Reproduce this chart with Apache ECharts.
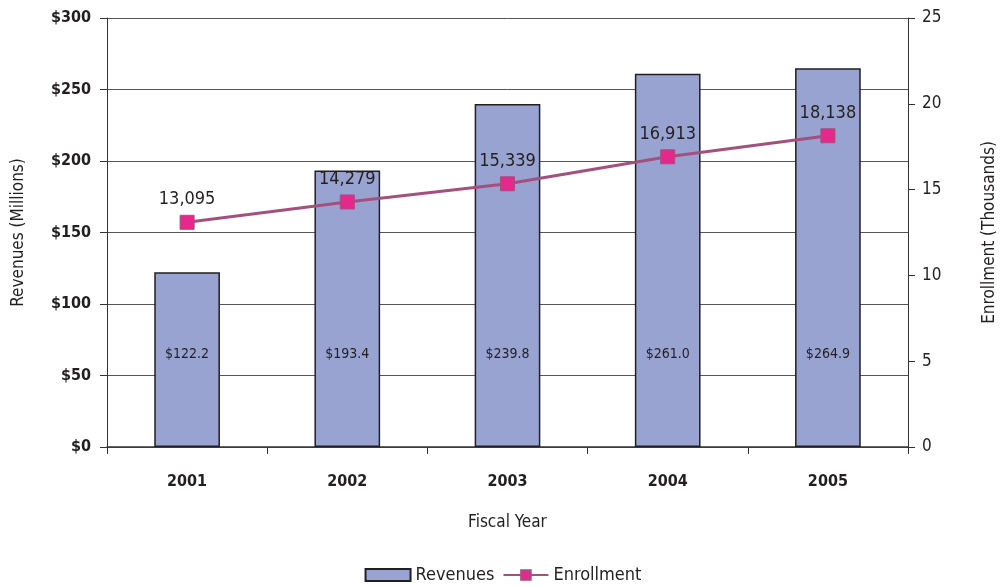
<!DOCTYPE html>
<html>
<head>
<meta charset="utf-8">
<script src="https://cdn.jsdelivr.net/npm/echarts@6/dist/echarts.min.js"></script>
<style>
  html, body { margin: 0; padding: 0; background: #fff; }
  #chart { width: 1006px; height: 587px; }
</style>
</head>
<body>
<div id="chart"></div>
<script>
// Fiscal years on the category axis
const years = ['2001', '2002', '2003', '2004', '2005'];
// Revenues in millions of dollars
const revenues = [122.2, 193.4, 239.8, 261.0, 264.9];
// Enrollment (students)
const enrollment = [13095, 14279, 15339, 16913, 18138];

const FONT = '"DejaVu Sans Condensed", "Liberation Sans Narrow", sans-serif';
const TEXT = '#231f20';

const chart = echarts.init(document.getElementById('chart'));
chart.setOption({
  animation: false,
  textStyle: { fontFamily: FONT, color: TEXT },
  grid: { left: 107, right: 85, top: 18, bottom: 140 },
  legend: {
    bottom: -2,
    left: 'center',
    itemWidth: 45,
    itemHeight: 12,
    itemGap: 8,
    textStyle: { fontFamily: FONT, fontSize: 18, color: TEXT },
    data: [{ name: 'Revenues', icon: 'rect' }, { name: 'Enrollment' }]
  },
  xAxis: {
    type: 'category',
    data: years,
    name: 'Fiscal Year',
    nameLocation: 'middle',
    nameGap: 67,
    nameTextStyle: { fontFamily: FONT, fontSize: 17, color: TEXT },
    axisLine: { lineStyle: { color: '#333', width: 1.5 } },
    axisTick: { show: true, length: 7, lineStyle: { color: '#333' } },
    axisLabel: { margin: 27, fontSize: 16, fontWeight: 'bold', color: TEXT, fontFamily: FONT }
  },
  yAxis: [
    {
      type: 'value',
      min: 0, max: 300, interval: 50,
      name: 'Revenues (Millions)',
      nameLocation: 'middle',
      nameGap: 80,
      nameTextStyle: { fontFamily: FONT, fontSize: 17, color: TEXT },
      axisLine: { show: true, lineStyle: { color: '#333' } },
      axisTick: { show: true, length: 7, lineStyle: { color: '#333' } },
      axisLabel: { formatter: '${value}', margin: 16, fontSize: 16, fontWeight: 'bold', color: TEXT, fontFamily: FONT },
      splitLine: { lineStyle: { color: '#555', width: 1 } }
    },
    {
      type: 'value',
      min: 0, max: 25, interval: 5,
      name: 'Enrollment (Thousands)',
      nameLocation: 'middle',
      nameGap: 73,
      nameRotate: 90,
      nameTextStyle: { fontFamily: FONT, fontSize: 17, color: TEXT },
      axisLine: { show: true, lineStyle: { color: '#333' } },
      axisTick: { show: true, length: 7, lineStyle: { color: '#333' } },
      axisLabel: { margin: 14, fontSize: 17, color: TEXT, fontFamily: FONT },
      splitLine: { show: false }
    }
  ],
  series: [
    {
      name: 'Revenues',
      type: 'bar',
      yAxisIndex: 0,
      data: revenues,
      barWidth: '41%',
      itemStyle: { color: '#98a3d2', borderColor: '#231f20', borderWidth: 1.5 },
      label: {
        show: true,
        position: 'insideBottom',
        distance: 86,
        formatter: p => '$' + p.value.toFixed(1),
        fontFamily: FONT,
        fontSize: 14,
        color: TEXT
      },
      z: 2
    },
    {
      name: 'Enrollment',
      type: 'line',
      yAxisIndex: 1,
      data: enrollment.map(v => v / 1000),
      symbol: 'rect',
      symbolSize: 14,
      lineStyle: { color: '#a4507f', width: 3 },
      itemStyle: { color: '#e6288d', borderColor: '#a4507f', borderWidth: 1 },
      label: {
        show: true,
        position: 'top',
        distance: 6,
        formatter: p => enrollment[p.dataIndex].toLocaleString('en-US'),
        fontFamily: FONT,
        fontSize: 18,
        color: TEXT
      },
      z: 3
    }
  ]
});
</script>
</body>
</html>
